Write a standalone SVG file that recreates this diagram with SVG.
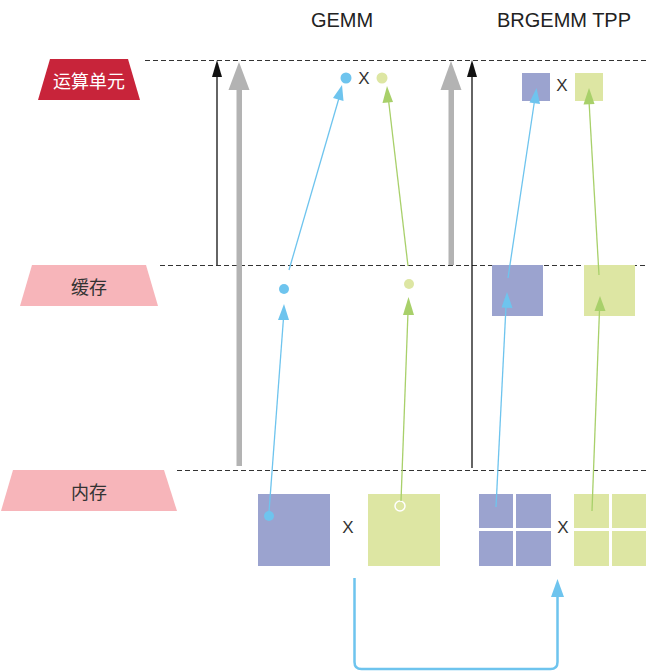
<svg xmlns="http://www.w3.org/2000/svg" width="646" height="672" viewBox="0 0 646 672">
<style>
.dash{stroke:#333;stroke-width:1.2;stroke-dasharray:5,3;fill:none}
.lbl{font-family:"Noto Sans CJK SC","Noto Sans",sans-serif;font-size:18px;text-anchor:middle;dominant-baseline:central}
.ttl{font-family:"Liberation Sans",Arial,sans-serif;font-size:20px;fill:#222;text-anchor:middle}
.x{font-family:"Liberation Sans",Arial,sans-serif;font-size:17px;fill:#333;text-anchor:middle;dominant-baseline:central}
.bl{stroke:#6EC4EE;stroke-width:1.3;fill:none}
.gl{stroke:#A8D06A;stroke-width:1.3;fill:none}
.bsq{fill:#9BA3CF}
.gsq{fill:#DDE6A3}
</style>
<rect width="646" height="672" fill="#fff"/>
<g id="guides">
<line class="dash" x1="145" y1="60.5" x2="646" y2="60.5"/>
<line class="dash" x1="160" y1="265.5" x2="646" y2="265.5"/>
<line class="dash" x1="177" y1="470.5" x2="646" y2="470.5"/>
</g>
<g id="label-compute">
<polygon points="50,59 128,59 140,100 38,100" fill="#C8243A"/>
<text class="lbl" x="89" y="80" fill="#fff">运算单元</text>
</g>
<g id="label-cache">
<polygon points="32,265 146,265 158,306 20,306" fill="#F7B5BA"/>
<text class="lbl" x="89" y="286" fill="#333">缓存</text>
</g>
<g id="label-memory">
<polygon points="13,470 164,470 177,511 1,511" fill="#F7B5BA"/>
<text class="lbl" x="89" y="491" fill="#333">内存</text>
</g>
<g id="titles">
<text class="ttl" x="342" y="27">GEMM</text>
<text class="ttl" x="564" y="27">BRGEMM TPP</text>
</g>
<g id="gemm-compute">
<circle cx="346" cy="78" r="5.5" fill="#6EC4EE"/>
<text class="x" x="364" y="78">X</text>
<circle cx="382" cy="78" r="5.5" fill="#DDE6A3"/>
</g>
<g id="gemm-cache">
<circle cx="284" cy="289" r="5" fill="#6EC4EE"/>
<circle cx="409" cy="284" r="5" fill="#DDE6A3"/>
</g>
<g id="gemm-memory">
<rect class="bsq" x="258" y="494" width="72" height="72"/>
<circle cx="269" cy="516" r="5" fill="#6EC4EE"/>
<text class="x" x="348" y="527">X</text>
<rect class="gsq" x="368" y="494" width="72" height="72"/>
<circle cx="400" cy="506" r="5" fill="none" stroke="#fff" stroke-width="1.5"/>
</g>
<g id="brgemm-compute">
<rect class="bsq" x="522" y="73" width="28" height="28"/>
<text class="x" x="562" y="85">X</text>
<rect class="gsq" x="575" y="73" width="28" height="28"/>
</g>
<g id="brgemm-cache">
<rect class="bsq" x="492" y="265" width="51" height="51"/>
<rect class="gsq" x="584" y="265" width="51" height="51"/>
</g>
<g id="brgemm-memory">
<rect class="bsq" x="479" y="494" width="34" height="34"/>
<rect class="bsq" x="516" y="494" width="35" height="34"/>
<rect class="bsq" x="479" y="531" width="34" height="35"/>
<rect class="bsq" x="516" y="531" width="35" height="35"/>
<text class="x" x="563" y="527">X</text>
<rect class="gsq" x="574" y="494" width="35" height="34"/>
<rect class="gsq" x="612" y="494" width="34" height="34"/>
<rect class="gsq" x="574" y="531" width="35" height="35"/>
<rect class="gsq" x="612" y="531" width="34" height="35"/>
</g>
<g id="connectors">
<line x1="217" y1="265" x2="217" y2="74" stroke="#111" stroke-width="1.3"/>
<polygon points="217,60 222,77 212,77" fill="#111"/>
<line x1="472" y1="468" x2="472" y2="74" stroke="#111" stroke-width="1.3"/>
<polygon points="472,60 477,77 467,77" fill="#111"/>
<rect x="236.5" y="88" width="5.5" height="378" fill="#B3B3B3"/>
<polygon points="239,62 249.5,90 228.5,90" fill="#B3B3B3"/>
<rect x="448.5" y="88" width="5.5" height="177" fill="#B3B3B3"/>
<polygon points="451,61 461.5,90 440.5,90" fill="#B3B3B3"/>
<line class="bl" x1="269" y1="512" x2="283.5" y2="318"/>
<polygon points="284,304 289,320 278,320" fill="#6EC4EE"/>
<line class="bl" x1="289" y1="270" x2="339" y2="98"/>
<polygon points="342,85 343.5,101 333,98" fill="#6EC4EE"/>
<line class="gl" x1="401" y1="501" x2="408" y2="312"/>
<polygon points="408.5,297 414,315 403,315" fill="#A8D06A"/>
<line class="gl" x1="408" y1="266" x2="388.5" y2="100"/>
<polygon points="387,86 393,102 382.5,103" fill="#A8D06A"/>
<line class="bl" x1="496" y1="507" x2="506" y2="306"/>
<polygon points="507,292 512.5,308 501.5,307.5" fill="#6EC4EE"/>
<line class="bl" x1="508" y1="278" x2="534.5" y2="101"/>
<polygon points="536.5,88 540,104 529.5,102.5" fill="#6EC4EE"/>
<line class="gl" x1="592" y1="511" x2="599.5" y2="310"/>
<polygon points="600,296 605.5,311 594.5,311" fill="#A8D06A"/>
<line class="gl" x1="599" y1="275" x2="589" y2="101"/>
<polygon points="589,88 594.5,104 583.5,104.5" fill="#A8D06A"/>
<path d="M354.5,578 V662 Q354.5,669 361.5,669 H550.5 Q557.5,669 557.5,662 V596" fill="none" stroke="#6EC4EE" stroke-width="2.5"/>
<polygon points="557.5,579 564,597 551,597" fill="#6EC4EE"/>
</g>
</svg>
